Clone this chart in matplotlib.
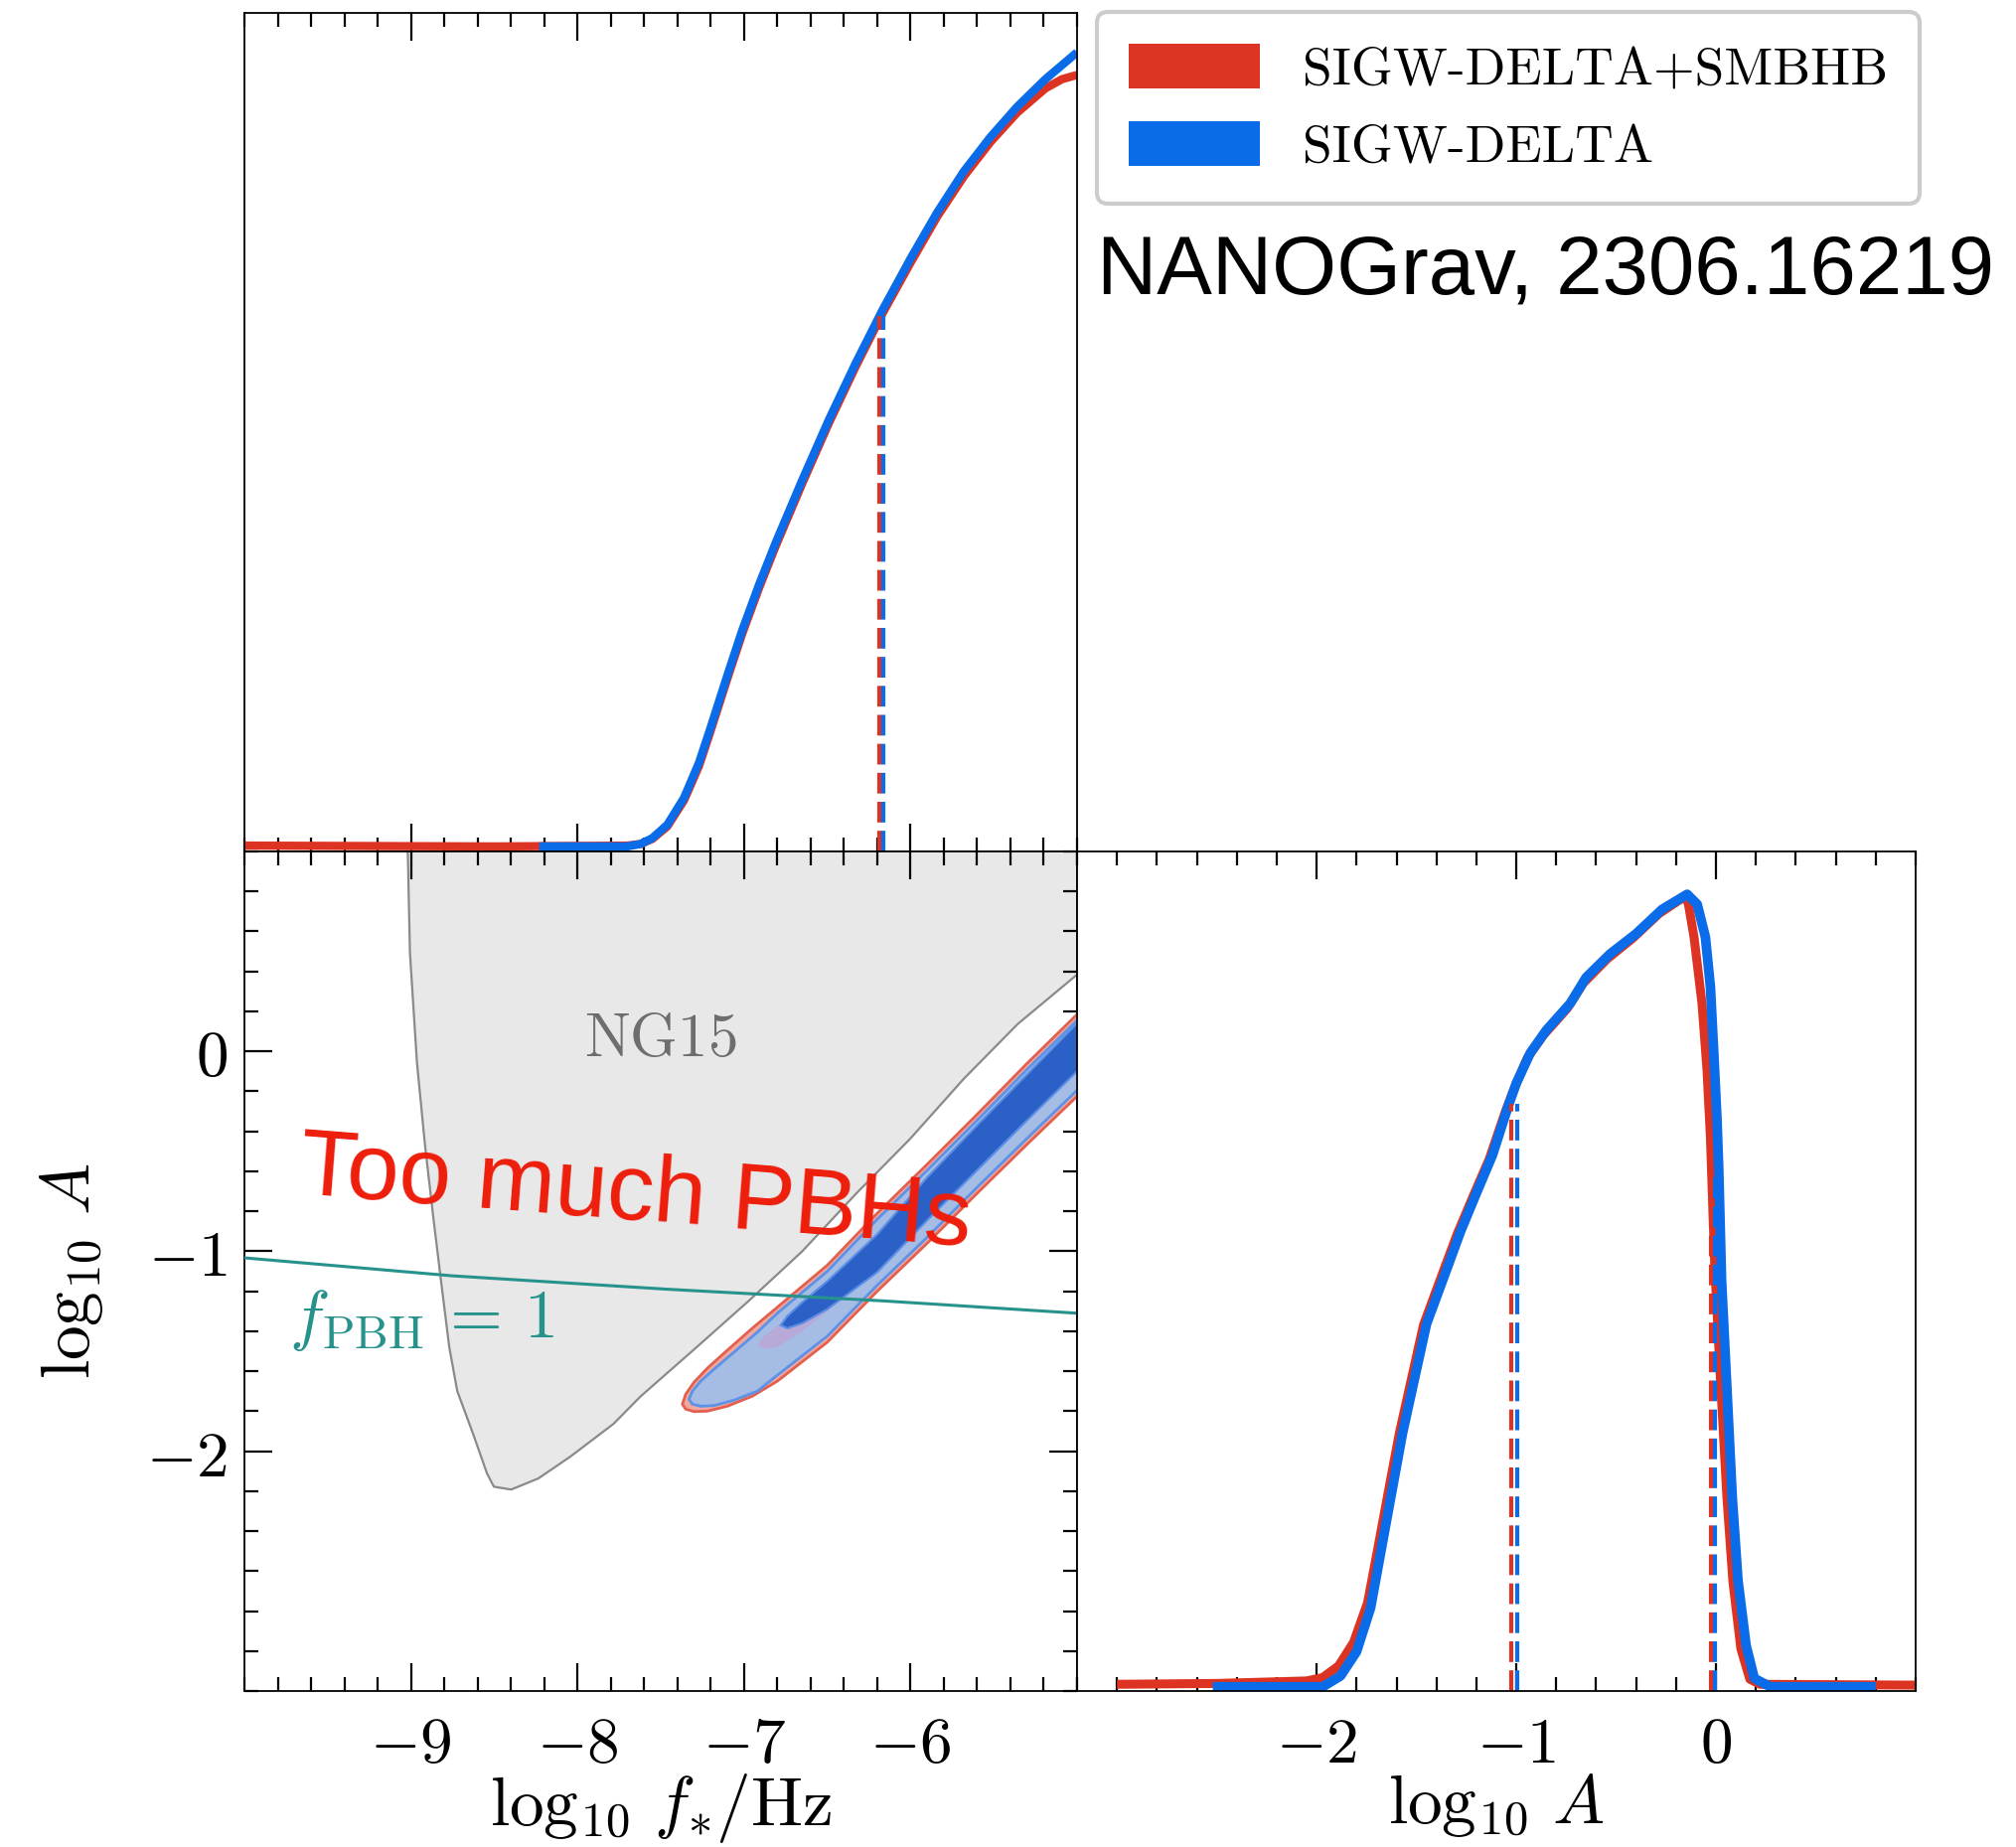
import matplotlib
matplotlib.use('Agg')
import matplotlib.pyplot as plt
from matplotlib.patches import Patch
from matplotlib.ticker import FixedLocator, MultipleLocator, FuncFormatter

plt.rcParams['mathtext.fontset'] = 'cm'
plt.rcParams['font.family'] = ['DejaVu Sans']

RED = '#dd3322'
BLUE = '#0a6ce8'
TEAL = '#27928c'

# axis ranges
f_lim = [-10.0, -5.0]
a_lim = [-3.2, 1.0]
f_ticks = [-9, -8, -7, -6]
a_ticks = [-2, -1, 0]

# top-left: 1D curve for log10 f*
tl_red_x = [-10.0, -8.5, -7.70, -7.62, -7.55, -7.46, -7.36, -7.27, -7.20, -7.10, -7.01, -6.91,
            -6.81, -6.65, -6.49, -6.33, -6.17, -6.00, -5.84, -5.68, -5.52, -5.36, -5.19,
            -5.09, -5.0]
tl_red_y = [0.007, 0.006, 0.007, 0.009, 0.015, 0.030, 0.061, 0.102, 0.144, 0.206, 0.260,
            0.314, 0.364, 0.439, 0.511, 0.578, 0.641, 0.702, 0.757, 0.805, 0.846, 0.881,
            0.910, 0.921, 0.926]
tl_blue_x = [-8.23, -7.70, -7.62, -7.55, -7.46, -7.36, -7.27, -7.20, -7.10, -7.01, -6.91,
             -6.81, -6.65, -6.49, -6.33, -6.17, -6.00, -5.84, -5.68, -5.52, -5.36, -5.19, -5.0]
tl_blue_y = [0.006, 0.006, 0.009, 0.016, 0.032, 0.064, 0.106, 0.148, 0.210, 0.264, 0.318,
             0.368, 0.443, 0.515, 0.582, 0.645, 0.707, 0.762, 0.811, 0.852, 0.888, 0.921, 0.953]
tl_red_q = [-6.188]
tl_blue_q = [-6.165]
tl_q_height = 0.639

# bottom-right: 1D curve for log10 A
br_red_x = [-3.0, -2.5, -2.05, -1.97, -1.89, -1.815, -1.745, -1.695, -1.635, -1.585, -1.525,
            -1.465, -1.375, -1.295, -1.215, -1.135, -1.055, -1.02, -0.945, -0.865, -0.745,
            -0.665, -0.545, -0.415, -0.285, -0.165, -0.14, -0.11, -0.07, -0.045, -0.028,
            -0.005, 0.025, 0.055, 0.085, 0.125, 0.17, 0.22, 1.0]
br_red_y = [0.008, 0.009, 0.012, 0.016, 0.030, 0.058, 0.105, 0.168, 0.245, 0.308, 0.372,
            0.436, 0.494, 0.545, 0.590, 0.634, 0.690, 0.712, 0.754, 0.781, 0.813, 0.843,
            0.872, 0.897, 0.926, 0.945, 0.940, 0.898, 0.819, 0.740, 0.660, 0.500, 0.360,
            0.230, 0.130, 0.050, 0.014, 0.008, 0.007]
br_blue_x = [-2.52, -1.97, -1.88, -1.80, -1.73, -1.68, -1.62, -1.57, -1.51, -1.45, -1.36,
             -1.28, -1.20, -1.12, -1.04, -1.00, -0.93, -0.85, -0.73, -0.65, -0.53, -0.40,
             -0.27, -0.144, -0.094, -0.053, -0.028, -0.011, 0.005, 0.014, 0.028, 0.055,
             0.082, 0.11, 0.151, 0.192, 0.273, 0.80]
br_blue_y = [0.005, 0.005, 0.018, 0.047, 0.099, 0.164, 0.242, 0.307, 0.372, 0.437, 0.495,
             0.547, 0.593, 0.638, 0.697, 0.724, 0.760, 0.787, 0.819, 0.850, 0.878, 0.902,
             0.931, 0.949, 0.937, 0.898, 0.839, 0.760, 0.681, 0.620, 0.489, 0.359, 0.229,
             0.132, 0.054, 0.015, 0.005, 0.005]
br_red_q = [-1.023, -0.027]
br_blue_q = [-0.996, -0.005]
br_q_height = [0.70, 0.62]

# bottom-left: NG15 excluded region boundary
ng15_x = [-9.019, -9.006, -8.964, -8.916, -8.867, -8.819, -8.770, -8.722, -8.625, -8.544,
          -8.502, -8.398, -8.236, -8.042, -7.783, -7.621, -7.298, -6.974, -6.650, -6.327,
          -6.003, -5.680, -5.356, -5.0, -4.9]
ng15_y = [1.0, 0.493, -0.055, -0.466, -0.822, -1.151, -1.479, -1.699, -1.918, -2.110,
          -2.178, -2.192, -2.137, -2.027, -1.863, -1.726, -1.490, -1.250, -1.000, -0.712,
          -0.438, -0.137, 0.137, 0.384, 0.45]

# f_PBH = 1 line
fpbh_x = [-10.0, -8.75, -7.46, -6.17, -5.0]
fpbh_y = [-1.033, -1.123, -1.190, -1.248, -1.310]

# 2D contours: x stations with upper / lower edges
red95_x = [-7.37, -7.35, -7.30, -7.22, -7.10, -6.95, -6.80, -6.50, -6.20, -5.90, -5.60, -5.30, -5.00, -4.90]
red95_up = [-1.765, -1.715, -1.655, -1.585, -1.495, -1.385, -1.280, -1.070, -0.810, -0.565, -0.315, -0.060, 0.185, 0.265]
red95_lo = [-1.765, -1.790, -1.802, -1.800, -1.775, -1.725, -1.650, -1.455, -1.200, -0.960, -0.710, -0.465, -0.225, -0.145]

blue95_x = [-7.33, -7.31, -7.26, -7.18, -7.06, -6.92, -6.80, -6.50, -6.20, -5.90, -5.60, -5.30, -5.00, -4.90]
blue95_up = [-1.740, -1.700, -1.650, -1.590, -1.505, -1.405, -1.310, -1.100, -0.840, -0.595, -0.345, -0.090, 0.155, 0.235]
blue95_lo = [-1.740, -1.765, -1.775, -1.772, -1.745, -1.700, -1.620, -1.425, -1.170, -0.930, -0.680, -0.435, -0.195, -0.115]

red68_x = [-6.92, -6.88, -6.80, -6.65, -6.50, -6.20, -5.90, -5.60, -5.30, -5.00, -4.90]
red68_up = [-1.470, -1.425, -1.375, -1.265, -1.155, -0.910, -0.640, -0.380, -0.125, 0.130, 0.210]
red68_lo = [-1.470, -1.490, -1.480, -1.400, -1.300, -1.100, -0.840, -0.590, -0.340, -0.095, -0.015]

blue68_x = [-6.78, -6.74, -6.65, -6.50, -6.20, -5.90, -5.60, -5.30, -5.00, -4.90]
blue68_up = [-1.370, -1.325, -1.255, -1.150, -0.915, -0.630, -0.370, -0.115, 0.140, 0.220]
blue68_lo = [-1.370, -1.385, -1.360, -1.290, -1.105, -0.845, -0.595, -0.345, -0.100, -0.020]

legend_labels = ['SIGW-DELTA+SMBHB', 'SIGW-DELTA']

W, H = 2029, 1859
fig = plt.figure(figsize=(W / 100, H / 100), dpi=100)
ax_tl = fig.add_axes([246 / W, 1 - 857 / H, 838 / W, 844 / H])
ax_bl = fig.add_axes([246 / W, 1 - 1702 / H, 838 / W, 845 / H])
ax_br = fig.add_axes([1084 / W, 1 - 1702 / H, 844 / W, 845 / H])

fmt = FuncFormatter(lambda v, p: r'$%d$' % round(v))


def style(ax, xt, yt=None):
    ax.xaxis.set_major_locator(FixedLocator(xt))
    ax.xaxis.set_minor_locator(MultipleLocator(0.2))
    ax.xaxis.set_major_formatter(fmt)
    if yt is not None:
        ax.yaxis.set_major_locator(FixedLocator(yt))
        ax.yaxis.set_minor_locator(MultipleLocator(0.2))
        ax.yaxis.set_major_formatter(fmt)
    ax.tick_params(which='both', direction='in', top=True, bottom=True,
                   left=yt is not None, right=yt is not None, width=1.6,
                   labelsize=47, colors='black')
    ax.tick_params(which='major', length=20)
    ax.tick_params(which='minor', length=10)
    ax.tick_params(axis='x', pad=16)
    ax.tick_params(axis='y', pad=12)
    for s in ax.spines.values():
        s.set_linewidth(1.3)


def band(xs, up, lo):
    return xs + xs[::-1], up + lo[::-1]


# top-left
ax = ax_tl
ax.plot(tl_red_x, tl_red_y, color=RED, lw=6.0, solid_capstyle='butt')
ax.plot(tl_blue_x, tl_blue_y, color=BLUE, lw=6.0, solid_capstyle='butt')
ax.plot([tl_red_q[0]] * 2, [0, tl_q_height], color=RED, lw=3, dashes=(5, 2))
ax.plot([tl_blue_q[0]] * 2, [0, tl_q_height], color=BLUE, lw=3, dashes=(5, 2))
ax.set_xlim(f_lim)
ax.set_ylim(0, 1)
style(ax, f_ticks)
ax.tick_params(labelbottom=False, labelleft=False, left=False, right=False)
ax.set_yticks([])

# bottom-left
ax = ax_bl
poly_x = ng15_x + [ng15_x[-1], ng15_x[0]]
poly_y = ng15_y + [a_lim[1] + 0.2, a_lim[1] + 0.2]
ax.fill(poly_x, poly_y, color='#e8e8e8', lw=0, zorder=1)
ax.plot(ng15_x, ng15_y, color='#8a8a8a', lw=1.6, zorder=2)

px, py = band(red95_x, red95_up, red95_lo)
ax.fill(px, py, facecolor='#efa79e', edgecolor='#e3604f', lw=2.0, zorder=3)
px, py = band(blue95_x, blue95_up, blue95_lo)
ax.fill(px, py, facecolor='#a5bde5', edgecolor='#5c92e8', lw=2.0, zorder=4)
px, py = band(red68_x, red68_up, red68_lo)
ax.fill(px, py, facecolor='#b7a9d8', edgecolor='none', zorder=5)
px, py = band(blue68_x, blue68_up, blue68_lo)
ax.fill(px, py, facecolor='#2b61c6', edgecolor='#5a8ee6', lw=1.5, zorder=6)

ax.plot(fpbh_x, fpbh_y, color=TEAL, lw=2.2, zorder=7)
ax.text(-9.73, -1.43, r'$f_{\rm PBH}\,=\,1$', color=TEAL, fontsize=49, ha='left',
        va='baseline', zorder=8)
ax.text(-7.50, 0.056, r'$\mathrm{NG15}$', color='#6e6e6e', fontsize=44,
        ha='center', va='center', zorder=8)
ax.text(-9.68, -0.71, 'Too much PBHs', color='#ee1d0b', fontsize=68,
        family='Liberation Sans', rotation=-4.5, rotation_mode='anchor',
        ha='left', va='baseline', zorder=9)
ax.set_xlim(f_lim)
ax.set_ylim(a_lim)
style(ax, f_ticks, a_ticks)
ax.set_xlabel(r'$\log_{10}\,f_{*}/\mathrm{Hz}$', fontsize=50, labelpad=-4)
ax.set_ylabel(r'$\log_{10}\,A$', fontsize=50, labelpad=30)

# bottom-right
ax = ax_br
ax.plot(br_red_x, br_red_y, color=RED, lw=6.5, solid_capstyle='butt')
ax.plot(br_blue_x, br_blue_y, color=BLUE, lw=7.0, solid_capstyle='butt')
for q, h in zip(br_red_q, br_q_height):
    ax.plot([q, q], [0, h], color=RED, lw=3, dashes=(5, 2))
for q, h in zip(br_blue_q, br_q_height):
    ax.plot([q, q], [0, h], color=BLUE, lw=3, dashes=(5, 2))
ax.set_xlim(a_lim)
ax.set_ylim(0, 1)
style(ax, a_ticks)
ax.set_yticks([])
ax.set_xlabel(r'$\log_{10}\,A$', fontsize=50, labelpad=-4)

handles = [Patch(facecolor=RED, edgecolor='none'), Patch(facecolor=BLUE, edgecolor='none')]
leg = fig.legend(handles, legend_labels, loc='upper left',
                 bbox_to_anchor=(1104 / W, 1 - 12 / H), bbox_transform=fig.transFigure,
                 prop={'family': 'cmr10', 'size': 38.5}, frameon=True, fancybox=True,
                 framealpha=1, edgecolor='#cccccc', handlelength=2.47, handleheight=0.92,
                 handletextpad=0.8, labelspacing=0.5, borderpad=0.6, borderaxespad=0)
leg.get_frame().set_linewidth(3)

fig.text(1104 / W, 1 - 296 / H, 'NANOGrav, 2306.16219', fontsize=60,
         family='Liberation Sans', ha='left', va='baseline')

fig.savefig('out.png', dpi=100)
